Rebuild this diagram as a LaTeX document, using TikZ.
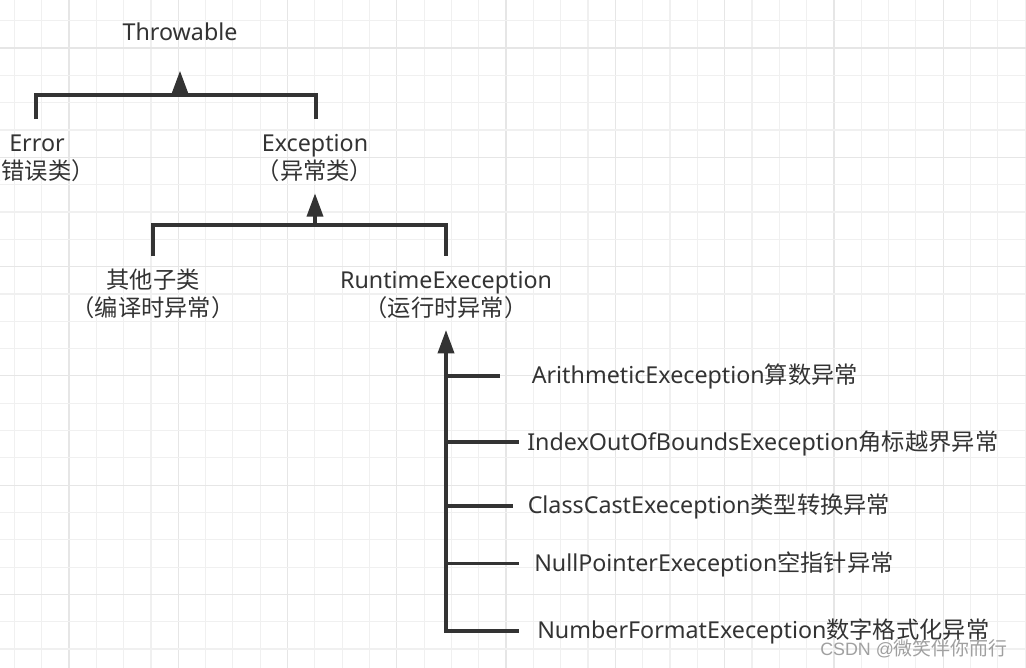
\documentclass[tikz,border=0pt]{standalone}
\usepackage{fontspec}
\setmainfont{Noto Sans}
\newfontfamily\cjk{Noto Sans CJK SC}
\newfontfamily\wmfont{Liberation Sans}
\usetikzlibrary{arrows.meta}
\definecolor{ink}{HTML}{333333}
\definecolor{gridminor}{HTML}{F0F0F0}
\definecolor{gridmajor}{HTML}{E6E6E6}
\definecolor{wmgray}{HTML}{A0A0A0}
\tikzset{
  lbl/.style={inner sep=0pt, text=ink, font=\fontsize{17.45pt}{20pt}\selectfont},
  conn/.style={draw=ink, line width=2.7pt, line join=miter},
  tri/.style={-{Triangle[length=17.5pt,width=12pt]}},
}
\begin{document}
\begin{tikzpicture}[x=0.75pt,y=-0.75pt]
\useasboundingbox (0,0) rectangle (1026,668);
\fill[white] (0,0) rectangle (1026,668);
% grid
\foreach \k in {0,...,37}{
  \pgfmathsetmacro{\xx}{14.3+27.32*\k}
  \pgfmathtruncatemacro{\m}{mod(\k,4)}
  \ifnum\m=2
    \draw[gridmajor, line width=0.9pt] (\xx,0) -- (\xx,668);
  \else
    \draw[gridminor, line width=0.9pt] (\xx,0) -- (\xx,668);
  \fi
}
\foreach \k in {0,...,23}{
  \pgfmathsetmacro{\yy}{20.7+27.32*\k}
  \pgfmathtruncatemacro{\m}{mod(\k,4)}
  \ifnum\m=1
    \draw[gridmajor, line width=0.9pt] (0,\yy) -- (1026,\yy);
  \else
    \draw[gridminor, line width=0.9pt] (0,\yy) -- (1026,\yy);
  \fi
}
% labels
\node[lbl, anchor=base] (thr) at (180,40.7) {Throwable};
\node[lbl, anchor=base] (err) at (37,151) {Error};
\node[lbl, anchor=base] (errzh) at (36.5,179.5) {\cjk （错误类）};
\node[lbl, anchor=base] (exc) at (315,151) {Exception};
\node[lbl, anchor=base] (exczh) at (315,179.5) {\cjk （异常类）};
\node[lbl, anchor=base] (oth) at (153,288) {\cjk 其他子类};
\node[lbl, anchor=base] (othzh) at (153,316.5) {\cjk （编译时异常）};
\node[lbl, anchor=base] (rte) at (446,288) {RuntimeExeception};
\node[lbl, anchor=base] (rtezh) at (446,316.5) {\cjk （运行时异常）};
\node[lbl, anchor=base west] (ari) at (531.5,383.5) {ArithmeticExeception{\cjk 算数异常}};
\node[lbl, anchor=base west] (idx) at (527,450) {IndexOutOfBoundsExeception{\cjk 角标越界异常}};
\node[lbl, anchor=base west] (cce) at (527.5,513.5) {ClassCastExeception{\cjk 类型转换异常}};
\node[lbl, anchor=base west] (npe) at (534,571) {NullPointerExeception{\cjk 空指针异常}};
\node[lbl, anchor=base west] (nfe) at (537,638.5) {NumberFormatExeception{\cjk 数字格式化异常}};
\node[inner sep=0pt, anchor=base west, text=wmgray] (wm) at (820,655)
  {{\wmfont\fontsize{13.4pt}{16pt}\selectfont CSDN @}{\cjk\fontsize{14.2pt}{16pt}\selectfont 微笑伴你而行}};
% bracket Throwable
\coordinate (b1l) at (36,119);
\coordinate (b1r) at (316,119);
\coordinate (b1m) at (180,95);
\coordinate (b1t) at (180,70.7);
\draw[conn] (b1l) -- (b1l|-b1m) -- (b1r|-b1m) -- (b1r);
\draw[conn,tri] (b1m) -- (b1t);
% bracket Exception
\coordinate (b2l) at (153,256);
\coordinate (b2r) at (446,256);
\coordinate (b2m) at (315,225);
\coordinate (b2t) at (315,193.3);
\draw[conn] (b2l) -- (b2l|-b2m) -- (b2r|-b2m) -- (b2r);
\draw[conn,tri] (b2m) -- (b2t);
% RuntimeException tree
\coordinate (vt) at (446,330);
\coordinate (v1) at (446,376);
\coordinate (v2) at (446,441.7);
\coordinate (v3) at (446,505.7);
\coordinate (v4) at (446,563.5);
\coordinate (v5) at (446,631);
\coordinate (e1) at (500,376);
\coordinate (e2) at (518.6,441.7);
\coordinate (e3) at (513,505.7);
\coordinate (e4) at (518.6,563.5);
\coordinate (e5) at (518.6,631);
\draw[conn,tri] (e5) -- (v5) -- (vt);
\draw[conn] (v1) -- (e1);
\draw[conn] (v2) -- (e2);
\draw[conn] (v3) -- (e3);
\draw[conn] (v4) -- (e4);
\end{tikzpicture}
\end{document}
